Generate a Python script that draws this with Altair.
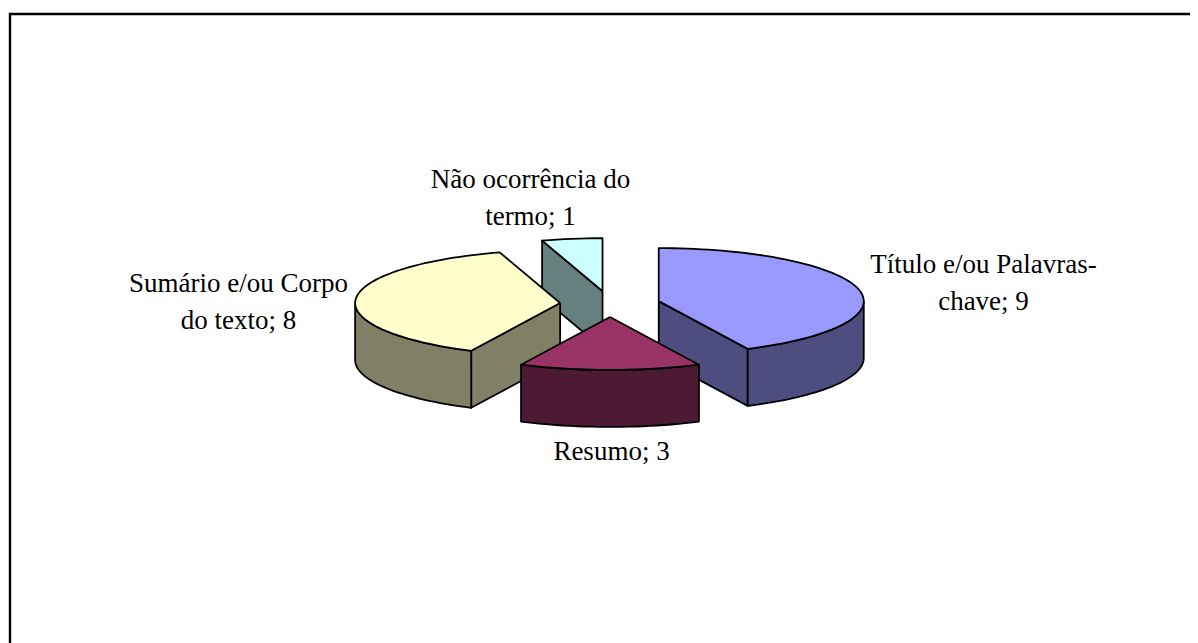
import math
import altair as alt
import pandas as pd

# Values (clockwise from 12 o'clock)
categories = ["Título e/ou Palavras-chave", "Resumo", "Sumário e/ou Corpo do texto", "Não ocorrência do termo"]
values = [9, 3, 8, 1]
first_lines = ["Título e/ou Palavras-", "", "Sumário e/ou Corpo", "Não ocorrência do"]
last_lines = ["chave", "Resumo", "do texto", "termo"]
top_colors = ["#9999FF", "#993366", "#FFFFCC", "#CCFFFF"]
wall_colors = ["#4D4D80", "#4D1A33", "#808066", "#668080"]
draw_order = [3, 0, 2, 1]

# Layout, in page pixels
W, H = 1190, 643
CX, CY = 610, 304
RX, RY, DEPTH, EXPLODE = 205, 53, 57, 50
label_x = [983.5, 611.5, 238.5, 530.5]
label_y = [265, 452, 284, 180]
LINE = 36.5
FONT_SIZE = 27


def pt(a, r=1.0, ox=0.0, oy=0.0, dz=0.0):
    t = math.radians(a)
    return (ox + RX * r * math.sin(t), oy - RY * r * math.cos(t) + dz)


total = sum(values)
spans = []
acc = 0
for v in values:
    spans.append((acc * 360 / total, (acc + v) * 360 / total))
    acc += v

rows = []
poly_id = 0


def add_poly(points, fill):
    global poly_id
    pts = list(points) + [points[0]]
    for i, (x, y) in enumerate(pts):
        rows.append({"poly": f"p{poly_id:02d}", "i": i, "x": x, "y": y, "fill": fill})
    poly_id += 1


def arc(a0, a1, **kw):
    n = max(2, int(abs(a1 - a0) / 2))
    return [pt(a0 + (a1 - a0) * k / n, **kw) for k in range(n + 1)]


for idx in draw_order:
    a0, a1 = spans[idx]
    mid = (a0 + a1) / 2
    ox, oy = pt(mid, r=EXPLODE / RX, ox=CX, oy=CY)
    apex = (ox, oy)
    low_apex = (ox, oy + DEPTH)
    off = dict(ox=ox, oy=oy)
    # radial walls facing the viewer
    if 180 < a0 < 360:
        add_poly([apex, pt(a0, **off), pt(a0, dz=DEPTH, **off), low_apex], wall_colors[idx])
    if 0 < a1 < 180:
        add_poly([apex, pt(a1, **off), pt(a1, dz=DEPTH, **off), low_apex], wall_colors[idx])
    # outer wall
    b0, b1 = max(a0, 90), min(a1, 270)
    if b1 > b0:
        add_poly(arc(b0, b1, **off) + arc(b1, b0, dz=DEPTH, **off), wall_colors[idx])
    # top face
    add_poly([apex] + arc(a0, a1, **off), top_colors[idx])

faces = pd.DataFrame(rows)

labels = []
for i in range(len(categories)):
    if first_lines[i]:
        labels.append({"x": label_x[i], "y": label_y[i], "t": first_lines[i]})
        labels.append({"x": label_x[i], "y": label_y[i] + LINE, "t": f"{last_lines[i]}; {values[i]}"})
    else:
        labels.append({"x": label_x[i], "y": label_y[i], "t": f"{last_lines[i]}; {values[i]}"})
labels = pd.DataFrame(labels)

frame = pd.DataFrame({"x": [10, 10, W], "y": [H, 14, 14], "i": [0, 1, 2]})

xs = alt.Scale(domain=[8, W], range=[0, W - 8], nice=False, zero=False)
ys = alt.Scale(domain=[H, 8], range=[H - 8, 0], nice=False, zero=False)
X = alt.X("x:Q", scale=xs, axis=None)
Y = alt.Y("y:Q", scale=ys, axis=None)

frame_layer = alt.Chart(frame).mark_line(color="black", strokeWidth=2.4).encode(x=X, y=Y, order="i:Q")
face_layer = alt.Chart(faces).mark_line(stroke="black", strokeWidth=1.8, strokeJoin="round").encode(
    x=X, y=Y, detail="poly:N", order="i:Q", fill=alt.Fill("fill:N", scale=None)
)
text_layer = alt.Chart(labels).mark_text(
    font="Liberation Serif", fontSize=FONT_SIZE, color="black", align="center", baseline="middle"
).encode(x=X, y=Y, text="t:N")

chart = alt.layer(frame_layer, face_layer, text_layer).properties(
    width=W - 8, height=H - 8, padding=0,
    autosize=alt.AutoSizeParams(type="none"), background="white",
).configure_view(stroke=None)

chart.save("out.html", embed_options={"renderer": "svg", "actions": False})
